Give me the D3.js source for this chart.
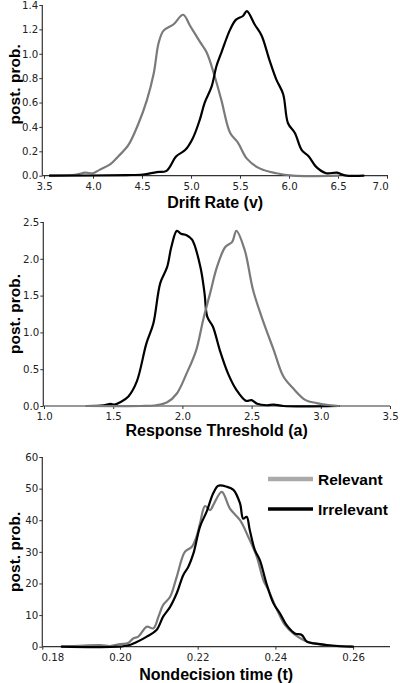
<!DOCTYPE html>
<html>
<head>
<meta charset="utf-8">
<script src="https://cdn.jsdelivr.net/npm/d3@7"></script>
<style>
  html, body { margin: 0; padding: 0; background: #fff; }
  svg { display: block; }
</style>
</head>
<body>
<svg id="chart" width="400" height="683"></svg>
<script>
// ---------------- data ----------------
const seriesNames = ["Relevant", "Irrelevant"];

// Panel 1: Drift Rate (v)
const driftTicksX = [3.5, 4.0, 4.5, 5.0, 5.5, 6.0, 6.5, 7.0];
const driftTicksY = [0.0, 0.2, 0.4, 0.6, 0.8, 1.0, 1.2, 1.4];
const driftRelX = [3.56, 3.83, 3.92, 4.0, 4.07, 4.17, 4.26, 4.36, 4.46, 4.55, 4.62, 4.67, 4.72, 4.82, 4.92, 4.99, 5.09, 5.16, 5.24, 5.31, 5.40, 5.48, 5.57, 5.70, 5.87, 6.04, 6.5];
const driftRelY = [0.0, 0.01, 0.025, 0.02, 0.05, 0.09, 0.16, 0.25, 0.42, 0.62, 0.84, 1.09, 1.19, 1.24, 1.32, 1.23, 1.10, 1.01, 0.82, 0.62, 0.35, 0.27, 0.14, 0.06, 0.02, 0.0, 0.0];
const driftIrrX = [3.56, 4.34, 4.51, 4.65, 4.75, 4.85, 4.94, 5.02, 5.09, 5.14, 5.21, 5.26, 5.31, 5.40, 5.46, 5.53, 5.57, 5.65, 5.72, 5.80, 5.87, 5.94, 5.99, 6.06, 6.13, 6.20, 6.28, 6.38, 6.49, 6.57, 6.76];
const driftIrrY = [0.0, 0.005, 0.01, 0.03, 0.04, 0.16, 0.21, 0.31, 0.46, 0.60, 0.73, 0.90, 1.01, 1.20, 1.28, 1.31, 1.35, 1.24, 1.15, 0.95, 0.79, 0.67, 0.43, 0.35, 0.21, 0.16, 0.07, 0.02, 0.025, 0.003, 0.0];

// Panel 2: Response Threshold (a)
const threshTicksX = [1.0, 1.5, 2.0, 2.5, 3.0, 3.5];
const threshTicksY = [0.0, 0.5, 1.0, 1.5, 2.0, 2.5];
const threshRelX = [1.31, 1.70, 1.81, 1.89, 1.96, 2.03, 2.10, 2.15, 2.20, 2.25, 2.31, 2.36, 2.39, 2.45, 2.51, 2.58, 2.66, 2.73, 2.80, 2.89, 2.97, 3.07, 3.13];
const threshRelY = [0.0, 0.0, 0.01, 0.05, 0.17, 0.44, 0.76, 1.17, 1.53, 1.89, 2.16, 2.23, 2.38, 2.12, 1.58, 1.17, 0.76, 0.40, 0.24, 0.08, 0.04, 0.01, 0.0];
const threshIrrX = [1.31, 1.43, 1.48, 1.51, 1.55, 1.61, 1.67, 1.74, 1.79, 1.84, 1.89, 1.92, 1.96, 1.99, 2.03, 2.07, 2.13, 2.16, 2.18, 2.22, 2.27, 2.33, 2.39, 2.46, 2.50, 2.54, 2.61, 2.66, 2.73, 3.13];
const threshIrrY = [0.0, 0.01, 0.03, 0.02, 0.05, 0.13, 0.33, 0.85, 1.12, 1.67, 1.89, 2.16, 2.38, 2.34, 2.32, 2.26, 1.89, 1.53, 1.21, 1.08, 0.76, 0.44, 0.22, 0.07, 0.08, 0.03, 0.01, 0.02, 0.0, 0.0];

// Panel 3: Nondecision time (t)
const ndtTicksX = [0.18, 0.20, 0.22, 0.24, 0.26];
const ndtTicksY = [0, 10, 20, 30, 40, 50, 60];
const ndtRelX = [0.1850, 0.1949, 0.1974, 0.2000, 0.2021, 0.2034, 0.2047, 0.2069, 0.2086, 0.2099, 0.2111, 0.2129, 0.2146, 0.2167, 0.2185, 0.2197, 0.2206, 0.2219, 0.2232, 0.2240, 0.2262, 0.2283, 0.2309, 0.2330, 0.2352, 0.2369, 0.2382, 0.2403, 0.2425, 0.2446, 0.2472, 0.2489, 0.2532, 0.2596];
const ndtRelY = [0, 0.5, 0.2, 0.8, 1.2, 2.6, 3.2, 6.3, 5.8, 9.5, 13.2, 15.8, 22.1, 30.0, 31.6, 34.8, 39.0, 44.5, 43.2, 44.8, 49.0, 43.7, 40.0, 34.8, 28.5, 21.1, 17.9, 12.0, 6.8, 4.2, 2.1, 1.3, 0.5, 0];
const ndtIrrX = [0.1850, 0.2017, 0.2043, 0.2069, 0.2094, 0.2111, 0.2129, 0.2146, 0.2163, 0.2176, 0.2189, 0.2206, 0.2223, 0.2240, 0.2253, 0.2275, 0.2292, 0.2309, 0.2317, 0.2326, 0.2334, 0.2347, 0.2360, 0.2377, 0.2395, 0.2412, 0.2429, 0.2450, 0.2468, 0.2481, 0.2515, 0.2549, 0.2600];
const ndtIrrY = [0, 0.3, 1.5, 3.2, 5.3, 9.5, 12.6, 16.9, 22.7, 25.3, 29.5, 38.0, 42.7, 48.5, 50.9, 50.6, 49.6, 45.3, 40.5, 41.1, 36.9, 30.6, 27.4, 20.0, 13.7, 10.5, 6.8, 4.2, 3.7, 1.6, 0.8, 0.3, 0];

// ---------------- drawing ----------------
const svg = d3.select("#chart");
const tickFont = "'DejaVu Sans', sans-serif";
const labelFont = "'Liberation Sans', Arial, sans-serif";
const relColor = "#7a7a7a";
const irrColor = "#000000";

function zip(xs, ys) { return xs.map((x, i) => [x, ys[i]]); }

function panel(opt) {
  const x = d3.scaleLinear().domain(opt.xDomain).range(opt.xRange);
  const y = d3.scaleLinear().domain(opt.yDomain).range(opt.yRange);
  const g = svg.append("g");

  const xAxis = d3.axisBottom(x).tickValues(opt.xTicks).tickFormat(opt.xFmt).tickSize(3).tickPadding(2).tickSizeOuter(0);
  const gx = g.append("g").attr("transform", `translate(0,${opt.yRange[0]})`).call(xAxis);
  gx.select(".domain").remove();
  gx.append("line").attr("x1", opt.axisX).attr("x2", opt.xEnd).attr("y1", 0).attr("y2", 0)
    .attr("stroke", "#333").attr("stroke-width", 1.2);
  gx.selectAll(".tick line").attr("stroke", "#333");
  gx.selectAll(".tick text").attr("font-family", tickFont).attr("font-size", 10.2).attr("fill", "#222").attr("dy", "0.9em");
  if (opt.xLabelShift) {
    gx.selectAll(".tick text").attr("dx", (d, i) => opt.xLabelShift[i] || 0);
  }

  const yAxis = d3.axisLeft(y).tickValues(opt.yTicks).tickFormat(opt.yFmt).tickSize(3).tickSizeOuter(0);
  const gy = g.append("g").attr("transform", `translate(${opt.axisX},0)`).call(yAxis);
  gy.select(".domain").remove();
  gy.append("line").attr("x1", 0).attr("x2", 0).attr("y1", opt.yRange[0]).attr("y2", opt.yRange[1])
    .attr("stroke", "#333").attr("stroke-width", 1.2);
  gy.selectAll(".tick line").attr("stroke", "#333");
  gy.selectAll(".tick text").attr("font-family", tickFont).attr("font-size", 10.2).attr("fill", "#222").attr("x", -4);

  const line = d3.line().x(d => x(d[0])).y(d => y(d[1])).curve(d3.curveCatmullRom.alpha(0.5));
  opt.series.forEach(s => {
    g.append("path").datum(zip(s.xs, s.ys)).attr("d", line)
      .attr("fill", "none").attr("stroke", s.color).attr("stroke-width", 2.2)
      .attr("stroke-linejoin", "round").attr("stroke-linecap", "round");
  });

  const cx = (opt.axisX + opt.xEnd) / 2;
  g.append("text").attr("x", cx).attr("y", opt.xLabelY).attr("text-anchor", "middle")
    .attr("font-family", labelFont).attr("font-weight", "bold").attr("font-size", 16).attr("fill", "#000")
    .text(opt.xLabel);
  const cy = (opt.yRange[0] + opt.yRange[1]) / 2;
  g.append("text").attr("transform", `translate(${opt.yLabelX},${cy + (opt.yLabelShift || 0)}) rotate(-90)`)
    .attr("text-anchor", "middle").attr("dominant-baseline", "central")
    .attr("font-family", labelFont).attr("font-weight", "bold").attr("font-size", 15.5).attr("fill", "#000")
    .text("post. prob.");
  return g;
}

panel({
  xDomain: [3.5, 7.0], xRange: [44, 387], yDomain: [0, 1.4], yRange: [175.7, 5],
  axisX: 42.3, xEnd: 388,
  xTicks: driftTicksX, yTicks: driftTicksY,
  xFmt: d3.format(".1f"), yFmt: d3.format(".1f"),
  xLabelShift: [0, 0, 0, 0, 0, 0, 0, -7],
  series: [
    { xs: driftRelX, ys: driftRelY, color: relColor },
    { xs: driftIrrX, ys: driftIrrY, color: irrColor }
  ],
  xLabel: "Drift Rate (v)", xLabelY: 208, yLabelX: 14, yLabelShift: -6
});

panel({
  xDomain: [1.0, 3.5], xRange: [44, 390], yDomain: [0, 2.5], yRange: [406, 222],
  axisX: 43.3, xEnd: 390,
  xTicks: threshTicksX, yTicks: threshTicksY,
  xFmt: d3.format(".1f"), yFmt: d3.format(".1f"),
  series: [
    { xs: threshIrrX, ys: threshIrrY, color: irrColor },
    { xs: threshRelX, ys: threshRelY, color: relColor }
  ],
  xLabel: "Response Threshold (a)", xLabelY: 436, yLabelX: 14
});

panel({
  xDomain: [0.18, 0.2695], xRange: [42.3, 390], yDomain: [0, 60], yRange: [646.7, 457],
  axisX: 42.3, xEnd: 390,
  xTicks: ndtTicksX, yTicks: ndtTicksY,
  xFmt: d3.format(".2f"), yFmt: d3.format("d"),
  xLabelShift: [10, 0, 0, 0, 0],
  series: [
    { xs: ndtRelX, ys: ndtRelY, color: relColor },
    { xs: ndtIrrX, ys: ndtIrrY, color: irrColor }
  ],
  xLabel: "Nondecision time (t)", xLabelY: 680, yLabelX: 14
});

// legend
const legend = svg.append("g");
const legendColors = ["#aaaaaa", "#000000"];
const legendWidths = [4.5, 3.5];
seriesNames.forEach((name, i) => {
  const ly = 479 + i * 30;
  legend.append("line").attr("x1", 268).attr("x2", 313).attr("y1", ly).attr("y2", ly)
    .attr("stroke", legendColors[i]).attr("stroke-width", legendWidths[i]);
  legend.append("text").attr("x", 318).attr("y", ly).attr("dominant-baseline", "central")
    .attr("font-family", labelFont).attr("font-weight", "bold").attr("font-size", 15.5).attr("fill", "#000")
    .text(name);
});
</script>
</body>
</html>
